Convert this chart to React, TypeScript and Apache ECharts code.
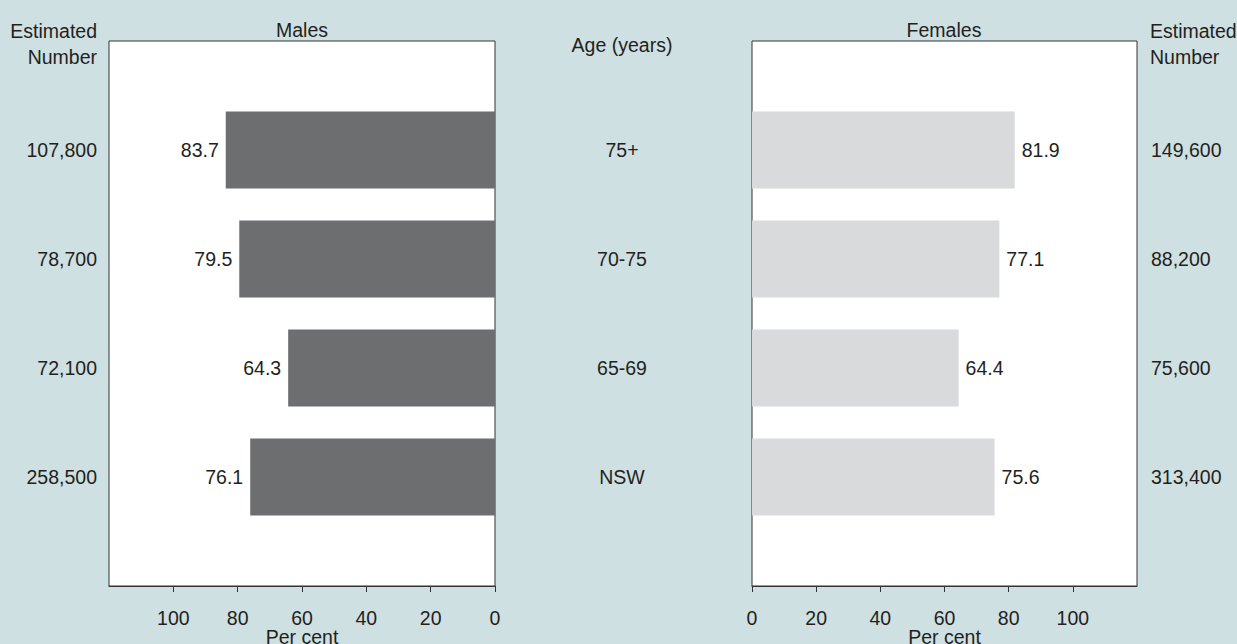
import React, { useEffect, useRef } from "react";
import * as echarts from "echarts";

const ageGroups = ["75+", "70-75", "65-69", "NSW"];
const maleValues = [83.7, 79.5, 64.3, 76.1];
const femaleValues = [81.9, 77.1, 64.4, 75.6];
const maleNumbers = ["107,800", "78,700", "72,100", "258,500"];
const femaleNumbers = ["149,600", "88,200", "75,600", "313,400"];
const tickValues = [0, 20, 40, 60, 80, 100];

const FONT = "'Liberation Sans', Arial, sans-serif";
const TEXT = "#231f20";
const FS = 19.5;

export default function App() {
  const ref = useRef<HTMLDivElement>(null);
  useEffect(() => {
    if (!ref.current) return;
    const chart = echarts.init(ref.current, null, { renderer: "svg" });
    const pad = (a: (string | number)[]) => ["", ...a, ""];
    const textStyle = { color: TEXT, fontFamily: FONT, fontSize: FS };
    const xCommon = (inverse: boolean, gi: number) => ({
      type: "value",
      gridIndex: gi,
      min: 0,
      max: 120,
      interval: 20,
      inverse,
      name: "Per cent",
      nameLocation: "middle",
      nameGap: 42,
      nameMoveOverlap: false,
      nameTextStyle: { ...textStyle, lineHeight: 17 },
      axisLine: { show: true, lineStyle: { color: "#333", width: 1 } },
      axisTick: { show: true, length: 6, lineStyle: { color: "#333" }, customValues: tickValues },
      axisLabel: { ...textStyle, lineHeight: 17, margin: 23, customValues: tickValues },
      splitLine: { show: false },
    });
    const yCommon = (gi: number, data: string[], position: string, margin: number, align?: string) => ({
      type: "category",
      gridIndex: gi,
      inverse: true,
      boundaryGap: false,
      data: pad(data),
      position,
      axisLine: { show: false },
      axisTick: { show: false },
      splitLine: { show: false },
      axisLabel: { ...textStyle, margin, ...(align ? { align } : {}) },
    });
    const font = `${FS}px ${FONT}`;
    const title = (text: string, x: number, y: number, align = "center") => ({
      type: "text",
      x,
      y,
      style: { text, fill: TEXT, font, align, verticalAlign: "middle", lineHeight: 26 },
    });
    const gridCommon = {
      top: 41,
      height: 545,
      show: true,
      backgroundColor: "#fff",
      borderColor: "#333",
      borderWidth: 1,
      containLabel: false,
      outerBoundsMode: "none",
    };
    chart.setOption({
      animation: false,
      backgroundColor: "#cfe0e2",
      textStyle: { fontFamily: FONT },
      grid: [
        { ...gridCommon, left: 109, width: 386 },
        { ...gridCommon, left: 752, width: 385 },
      ],
      xAxis: [xCommon(true, 0), xCommon(false, 1)],
      yAxis: [
        yCommon(0, maleNumbers, "left", 12),
        yCommon(1, ageGroups, "left", 130, "center"),
        yCommon(1, femaleNumbers, "right", 14),
      ],
      graphic: [
        title("Males", 302, 30),
        title("Females", 944, 30),
        title("Age (years)", 622, 45),
        title("Estimated\nNumber", 97, 44, "right"),
        title("Estimated\nNumber", 1150, 44, "left"),
      ],
      series: [
        {
          type: "bar",
          xAxisIndex: 0,
          yAxisIndex: 0,
          data: pad(maleValues).map((v) => (v === "" ? null : v)),
          barWidth: 77,
          itemStyle: { color: "#6d6e70" },
          label: { show: true, position: "left", distance: 7, ...textStyle, formatter: (p: any) => p.value.toFixed(1) },
        },
        {
          type: "bar",
          xAxisIndex: 1,
          yAxisIndex: 1,
          data: pad(femaleValues).map((v) => (v === "" ? null : v)),
          barWidth: 77,
          itemStyle: { color: "#d9dadc" },
          label: { show: true, position: "right", distance: 7, ...textStyle, formatter: (p: any) => p.value.toFixed(1) },
        },
      ],
    });
    return () => chart.dispose();
  }, []);
  return <div ref={ref} style={{ position: "fixed", left: 0, top: 0, width: 1237, height: 644 }} />;
}
